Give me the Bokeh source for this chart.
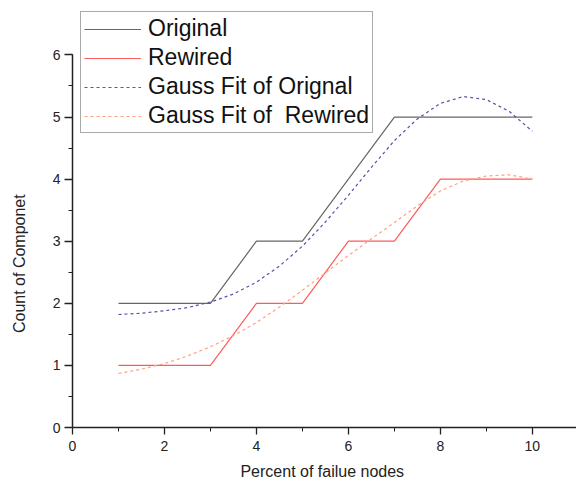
from bokeh.plotting import figure
from bokeh.models import Range1d, SingleIntervalTicker, Legend, LegendItem
from bokeh.embed import file_html
from bokeh.resources import INLINE

# data
x_steps = [1, 2, 3, 4, 5, 6, 7, 8, 9, 10]
original = [2, 2, 2, 3, 3, 4, 5, 5, 5, 5]
rewired = [1, 1, 1, 2, 2, 3, 3, 4, 4, 4]

x_fit = [1, 1.5, 2, 2.5, 3, 3.5, 4, 4.5, 5, 5.5, 6, 6.5, 7, 7.5, 8, 8.5, 9, 9.5, 10]
fit_original = [1.82, 1.84, 1.88, 1.93, 2.02, 2.15, 2.34, 2.60, 2.92, 3.31, 3.74,
                4.19, 4.62, 4.97, 5.22, 5.33, 5.28, 5.09, 4.77]
fit_rewired = [0.87, 0.94, 1.03, 1.15, 1.30, 1.48, 1.69, 1.94, 2.21, 2.49, 2.77,
               3.04, 3.30, 3.57, 3.81, 3.97, 4.05, 4.07, 4.00]

x_title = "Percent of  failue nodes"
y_title = "Count of Componet"

FONT = "Liberation Sans"

p = figure(width=576, height=482, output_backend="svg", toolbar_location=None,
           x_range=Range1d(0, 10.96), y_range=Range1d(0, 6.78),
           min_border_left=72, min_border_right=0, min_border_top=6,
           min_border_bottom=55)
p.outline_line_color = None
p.xgrid.visible = False
p.ygrid.visible = False

r1 = p.line(x_steps, original, line_color="#666666", line_width=1.2)
r2 = p.line(x_steps, rewired, line_color="#ff5a5a", line_width=1.2)
r3 = p.line(x_fit, fit_original, line_color="#5555a5", line_width=1.2, line_dash="3 3")
r4 = p.line(x_fit, fit_rewired, line_color="#ffa080", line_width=1.2, line_dash="3 3")

for ax in (p.xaxis[0], p.yaxis[0]):
    ax.axis_line_color = "#222222"
    ax.axis_line_width = 1.5
    ax.major_tick_line_color = "#222222"
    ax.minor_tick_line_color = "#222222"
    ax.major_tick_line_width = 1.3
    ax.major_tick_in = 0
    ax.minor_tick_in = 0
    ax.minor_tick_out = 4
    ax.major_label_text_font = FONT
    ax.major_label_text_font_size = "14px"
    ax.major_label_text_color = "#222222"
    ax.axis_label_text_font = FONT
    ax.axis_label_text_font_size = "16px"
    ax.axis_label_text_font_style = "normal"
    ax.axis_label_text_color = "#222222"

p.xaxis.ticker = SingleIntervalTicker(interval=2, num_minor_ticks=2)
p.yaxis.ticker = SingleIntervalTicker(interval=1, num_minor_ticks=2)
p.yaxis.bounds = (0, 6)
p.xaxis.axis_label = x_title
# trailing no-break spaces centre the label on the 0-6 span of the axis
p.yaxis.axis_label = y_title + "\u00a0" * 21
p.xaxis.major_tick_out = 7
p.xaxis.major_label_standoff = 6
p.xaxis.axis_label_standoff = 9
p.yaxis.major_tick_out = 8
p.yaxis.major_label_standoff = 4
p.yaxis.axis_label_standoff = 22

legend = Legend(items=[
    LegendItem(label="Original", renderers=[r1]),
    LegendItem(label="Rewired", renderers=[r2]),
    LegendItem(label="Gauss Fit of Orignal", renderers=[r3]),
    LegendItem(label="Gauss Fit of  Rewired", renderers=[r4]),
], location=(8, 294))
legend.label_text_font = FONT
legend.label_text_font_size = "23px"
legend.label_text_color = "#111111"
legend.glyph_width = 57
legend.glyph_height = 26
legend.label_height = 26
legend.label_standoff = 7
legend.spacing = 2
legend.padding = 3
legend.margin = 0
legend.border_line_color = "#555555"
legend.border_line_width = 1
legend.background_fill_alpha = 0.0
p.add_layout(legend, "center")

open("out.html", "w").write(file_html(p, INLINE))
